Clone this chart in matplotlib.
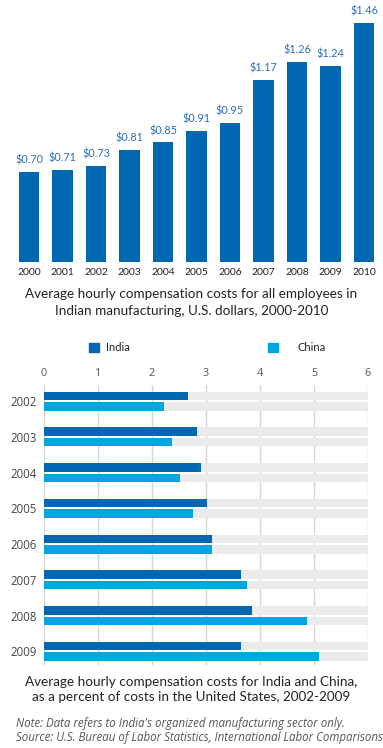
import matplotlib
matplotlib.use("Agg")
import matplotlib.pyplot as plt
from matplotlib.patches import Rectangle
import numpy as np

# top chart: Indian manufacturing, US dollars per hour
years_top = ["2000", "2001", "2002", "2003", "2004", "2005",
             "2006", "2007", "2008", "2009", "2010"]
cost_usd = [0.70, 0.71, 0.73, 0.81, 0.85, 0.91, 0.95, 1.17, 1.26, 1.24, 1.46]

# bottom chart: percent of US costs
years_bot = ["2002", "2003", "2004", "2005", "2006", "2007", "2008", "2009"]
india_pct = [2.67, 2.83, 2.91, 3.02, 3.11, 3.65, 3.86, 3.65]
china_pct = [2.22, 2.37, 2.52, 2.76, 3.11, 3.76, 4.87, 5.09]
x_ticks = [0, 1, 2, 3, 4, 5, 6]

W, H = 383, 748
DARK = "#0068b1"
LIGHT = "#00a6e0"
SANS = ["Lato", "DejaVu Sans"]
OPEN = ["Open Sans", "DejaVu Sans"]

fig = plt.figure(figsize=(W / 100, H / 100), dpi=100)
fig.patch.set_facecolor("white")


def box(left, top, right, bottom):
    return [left / W, 1 - bottom / H, (right - left) / W, (bottom - top) / H]


# ---- top bar chart ----
ax1 = fig.add_axes(box(12.25, 10, 380.75, 261.7))
x = np.arange(len(years_top))
ax1.bar(x, cost_usd, width=0.6, color=DARK)
ax1.set_xlim(-0.5, len(years_top) - 0.5)
ax1.set_ylim(0.24, 1.526)
for i, v in enumerate(cost_usd):
    ax1.annotate(f"${v:.2f}", (i, v), xytext=(0, 4.5), textcoords="offset points",
                 ha="center", va="bottom", fontsize=7.8, color="#2b6cb5",
                 family=SANS)
ax1.set_xticks(x)
ax1.set_xticklabels(years_top, fontsize=7.5, color="#222222", family=SANS)
ax1.tick_params(axis="x", length=0, pad=4.5)
ax1.set_yticks([])
for s in ax1.spines.values():
    s.set_visible(False)

fig.text(0.5, 1 - 294.3 / H, "Average hourly compensation costs for all employees in",
         ha="center", va="center", fontsize=9.7, color="#222222", family=SANS)
fig.text(0.5, 1 - 310.7 / H, "Indian manufacturing, U.S. dollars, 2000-2010",
         ha="center", va="center", fontsize=9.7, color="#222222", family=SANS)

# ---- bottom horizontal bars ----
ax2 = fig.add_axes(box(43.7, 385, 368, 665))
y = np.arange(len(years_bot))
h = 0.24
off = 0.147
ax2.barh(y - off, [6] * len(y), height=h, color="#ebebeb", zorder=1)
ax2.barh(y + off, [6] * len(y), height=h, color="#ebebeb", zorder=1)
ax2.barh(y - off, india_pct, height=h, color=DARK, zorder=2)
ax2.barh(y + off, china_pct, height=h, color=LIGHT, zorder=2)
ax2.set_xlim(0, 6)
ax2.set_ylim(7.383, -0.453)
ax2.set_xticks(x_ticks)
ax2.set_xticklabels([str(t) for t in x_ticks], fontsize=7.8, color="#555555", family=OPEN)
ax2.xaxis.tick_top()
ax2.tick_params(axis="x", length=0, pad=4)
ax2.set_yticks(y)
ax2.set_yticklabels(years_bot, fontsize=8.3, color="#444444", family=OPEN)
ax2.tick_params(axis="y", length=0, pad=5)
ax2.grid(axis="x", color="#d6d6d6", linewidth=1, zorder=0)
ax2.set_axisbelow(True)
for s in ax2.spines.values():
    s.set_visible(False)

# legend
for sx, col, lx, lab in [(89, DARK, 106, "India"), (268, LIGHT, 297, "China")]:
    fig.patches.append(Rectangle((sx / W, 1 - 352.5 / H), 9.5 / W, 9.5 / H,
                                 transform=fig.transFigure, color=col))
    fig.text(lx / W, 1 - 347.5 / H, lab, ha="left", va="center", fontsize=8,
             color="#222222", family=SANS)

fig.text(0.5, 1 - 681.7 / H, "Average hourly compensation costs for India and China,",
         ha="center", va="center", fontsize=9.7, color="#222222", family=SANS)
fig.text(0.5, 1 - 696.7 / H, "as a percent of costs in the United States, 2002-2009",
         ha="center", va="center", fontsize=9.7, color="#222222", family=SANS)

fig.text(16 / W, 1 - 723 / H, "Note: Data refers to India's organized manufacturing sector only.",
         ha="left", va="center", fontsize=8.3, style="italic", color="#555555", family=OPEN)
fig.text(16 / W, 1 - 737 / H, "Source: U.S. Bureau of Labor Statistics, International Labor Comparisons",
         ha="left", va="center", fontsize=8.3, style="italic", color="#555555", family=OPEN)

fig.savefig("out.png", dpi=100)
